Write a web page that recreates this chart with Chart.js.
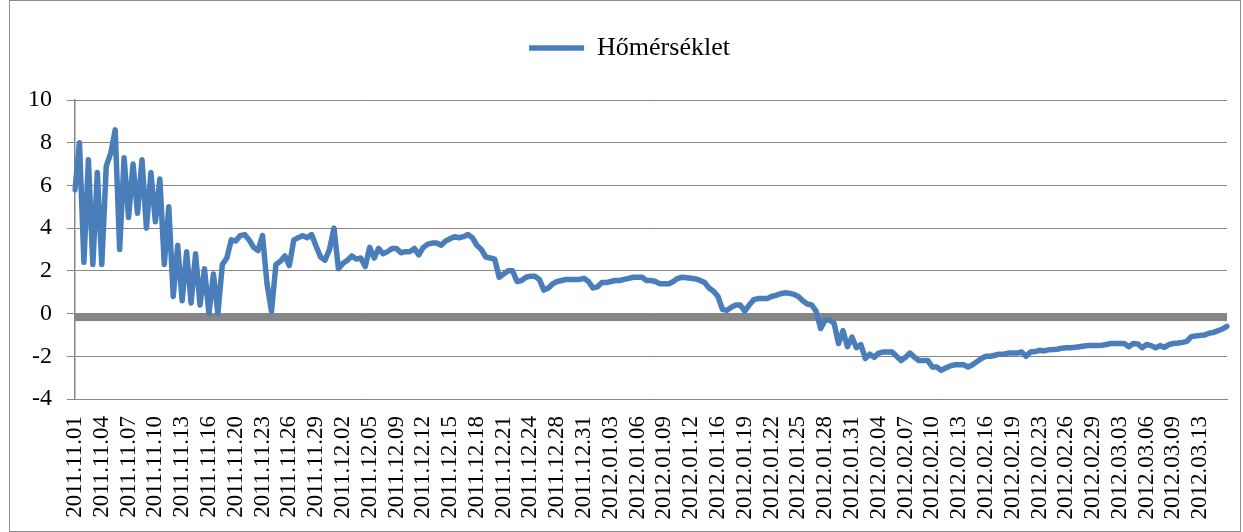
<!DOCTYPE html>
<html><head><meta charset="utf-8">
<script src="https://cdn.jsdelivr.net/npm/chart.js@4.4.1/dist/chart.umd.min.js"></script>
<style>html,body{margin:0;padding:0;background:#fff;}canvas{display:block;}</style>
</head><body>
<canvas id="c" width="1243" height="532"></canvas>
<script>
const seriesName = 'Hőmérséklet';

const tickLabels = [
  '2011.11.01','2011.11.04','2011.11.07','2011.11.10','2011.11.13','2011.11.16','2011.11.20','2011.11.23','2011.11.26','2011.11.29',
  '2011.12.02','2011.12.05','2011.12.09','2011.12.12','2011.12.15','2011.12.18','2011.12.21','2011.12.24','2011.12.28','2011.12.31',
  '2012.01.03','2012.01.06','2012.01.09','2012.01.12','2012.01.16','2012.01.19','2012.01.22','2012.01.25','2012.01.28','2012.01.31',
  '2012.02.04','2012.02.07','2012.02.10','2012.02.13','2012.02.16','2012.02.19','2012.02.23','2012.02.26','2012.02.29',
  '2012.03.03','2012.03.06','2012.03.09','2012.03.13'
];

// readings per labelled interval
const samplesPerTick = 6;

const temperatures = [
  5.8, 8.0, 2.4, 7.2, 2.3, 6.6, 2.3, 6.9, 7.5, 8.6,
  3.0, 7.3, 4.5, 7.0, 4.7, 7.2, 4.0, 6.6, 4.3, 6.3,
  2.3, 5.0, 0.8, 3.2, 0.6, 2.9, 0.5, 2.8, 0.4, 2.1,
  0.0, 1.85, 0.0, 2.3, 2.6, 3.45, 3.4, 3.65, 3.7, 3.45,
  3.1, 2.95, 3.65, 1.4, 0.1, 2.3, 2.45, 2.7, 2.25, 3.45,
  3.55, 3.65, 3.55, 3.7, 3.15, 2.65, 2.5, 3.0, 4.0, 2.1,
  2.35, 2.5, 2.7, 2.55, 2.6, 2.2, 3.1, 2.6, 3.05, 2.8,
  2.9, 3.05, 3.05, 2.85, 2.9, 2.9, 3.05, 2.75, 3.1, 3.25,
  3.3, 3.3, 3.2, 3.4, 3.5, 3.6, 3.55, 3.6, 3.7, 3.55,
  3.2, 3.0, 2.65, 2.6, 2.55, 1.7, 1.85, 2.0, 2.0, 1.5,
  1.55, 1.7, 1.75, 1.75, 1.6, 1.1, 1.2, 1.4, 1.5, 1.55,
  1.6, 1.6, 1.6, 1.6, 1.65, 1.5, 1.2, 1.25, 1.45, 1.45,
  1.5, 1.55, 1.55, 1.6, 1.65, 1.7, 1.7, 1.7, 1.55, 1.55,
  1.5, 1.4, 1.4, 1.4, 1.5, 1.65, 1.7, 1.68, 1.65, 1.62,
  1.55, 1.45, 1.2, 1.05, 0.8, 0.2, 0.15, 0.3, 0.4, 0.4,
  0.12, 0.4, 0.65, 0.7, 0.7, 0.7, 0.8, 0.85, 0.93, 0.97,
  0.95, 0.9, 0.8, 0.6, 0.45, 0.4, 0.1, -0.7, -0.3, -0.3,
  -0.45, -1.4, -0.8, -1.55, -1.1, -1.6, -1.45, -2.1, -1.9, -2.05,
  -1.85, -1.8, -1.8, -1.8, -2.0, -2.2, -2.05, -1.85, -2.05, -2.2,
  -2.2, -2.2, -2.5, -2.5, -2.65, -2.55, -2.45, -2.4, -2.4, -2.4,
  -2.5, -2.4, -2.25, -2.1, -2.0, -2.0, -1.95, -1.9, -1.9, -1.85,
  -1.85, -1.85, -1.8, -2.0, -1.8, -1.78, -1.72, -1.75, -1.7, -1.68,
  -1.67, -1.62, -1.6, -1.6, -1.58, -1.55, -1.52, -1.5, -1.5, -1.5,
  -1.48, -1.45, -1.4, -1.4, -1.4, -1.4, -1.55, -1.4, -1.42, -1.6,
  -1.45, -1.5, -1.6, -1.5, -1.58, -1.45, -1.4, -1.38, -1.35, -1.3,
  -1.08, -1.05, -1.02, -1.0, -0.92, -0.88, -0.8, -0.72, -0.6
];

const yMin = -4, yMax = 10, yStep = 2;

const categories = temperatures.map((_, i) =>
  (i % samplesPerTick === 0 && tickLabels[i / samplesPerTick]) ? tickLabels[i / samplesPerTick] : '');

const FONT = "'Liberation Serif', 'Times New Roman', serif";
const GRID = '#868686';

const zeroAxisPlugin = {
  id: 'zeroAxis',
  beforeDatasetsDraw(chart) {
    const {ctx, chartArea, scales} = chart;
    const y0 = scales.y.getPixelForValue(0);
    ctx.save();
    ctx.fillStyle = GRID;
    ctx.fillRect(chartArea.left - 1, y0, chartArea.right - chartArea.left + 1, 7.5);
    ctx.restore();
  }
};

// nudge the legend block to the right, as in the original
const legendShiftPlugin = {
  id: 'legendShift',
  afterLayout(chart) {
    if (chart.legend) { chart.legend.left += 16; chart.legend.right += 16; }
  }
};

const framePlugin = {
  id: 'frame',
  afterDraw(chart) {
    const ctx = chart.ctx;
    ctx.save();
    ctx.strokeStyle = '#8c8c8c';
    ctx.lineWidth = 1;
    ctx.strokeRect(9.5, 0.5, chart.width - 12, chart.height - 1);
    ctx.restore();
  }
};

Chart.defaults.color = '#000';
Chart.defaults.font.family = FONT;

new Chart(document.getElementById('c'), {
  type: 'line',
  data: {
    labels: categories,
    datasets: [{
      label: seriesName,
      data: temperatures,
      borderColor: '#4a7ebb',
      backgroundColor: '#4a7ebb',
      borderWidth: 5.5,
      borderCapStyle: 'round',
      borderJoinStyle: 'round',
      pointRadius: 0,
      tension: 0,
      fill: false
    }]
  },
  options: {
    responsive: false,
    animation: false,
    devicePixelRatio: 1,
    layout: { padding: { left: 0, right: 16, top: 25, bottom: 0 } },
    plugins: {
      legend: {
        position: 'top',
        labels: {
          usePointStyle: true,
          pointStyle: 'line',
          pointStyleWidth: 55,
          padding: 10,
          font: { family: FONT, size: 26 },
          color: '#000'
        }
      },
      title: { display: true, text: '', weight: 500, padding: 0, font: { size: 29, lineHeight: 1 } },
      tooltip: { enabled: false }
    },
    scales: {
      x: {
        type: 'category',
        offset: false,
        grid: { display: false, drawTicks: false },
        border: { display: true, color: GRID, width: 1 },
        ticks: {
          autoSkip: false,
          minRotation: 90,
          maxRotation: 90,
          padding: 17,
          font: { family: FONT, size: 23 },
          color: '#000'
        },
        afterFit(s) { s.height = 133; s.paddingLeft = 0; s.paddingRight = 0; }
      },
      y: {
        min: yMin,
        max: yMax,
        ticks: { stepSize: yStep, padding: 15, font: { family: FONT, size: 24 }, color: '#000' },
        grid: { color: GRID, lineWidth: 1, tickLength: 8, drawTicks: true },
        border: { display: true, color: GRID, width: 1.5 },
        afterFit(s) { s.width = 75; }
      }
    }
  },
  plugins: [zeroAxisPlugin, legendShiftPlugin, framePlugin]
});
</script>
</body></html>
